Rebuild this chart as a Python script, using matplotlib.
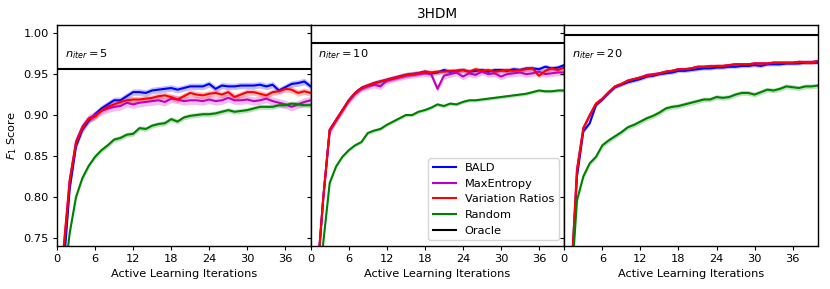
import numpy as np
import matplotlib
matplotlib.use("Agg")
import matplotlib.pyplot as plt

# active learning iterations 1..40
iters = np.arange(1, 41)
methods = ["BALD", "MaxEntropy", "Variation Ratios", "Random"]
colors = {"BALD": "blue", "MaxEntropy": "m", "Variation Ratios": "red", "Random": "green"}
n_iters = [5, 10, 20]
oracle = [0.956, 0.988, 0.998]

# n_iter = 5
bald_5 = [0.71, 0.81, 0.862, 0.882, 0.893, 0.901, 0.908, 0.913, 0.918, 0.918,
          0.923, 0.928, 0.928, 0.927, 0.930, 0.931, 0.932, 0.933, 0.931, 0.933,
          0.935, 0.935, 0.935, 0.938, 0.932, 0.936, 0.935, 0.935, 0.936, 0.936,
          0.936, 0.937, 0.935, 0.937, 0.930, 0.934, 0.938, 0.939, 0.941, 0.935]
maxent_5 = [0.73, 0.82, 0.868, 0.886, 0.896, 0.900, 0.905, 0.908, 0.910, 0.911,
            0.915, 0.913, 0.915, 0.916, 0.917, 0.918, 0.916, 0.920, 0.919, 0.917,
            0.918, 0.918, 0.917, 0.919, 0.917, 0.918, 0.921, 0.918, 0.918, 0.919,
            0.917, 0.918, 0.920, 0.917, 0.915, 0.913, 0.910, 0.913, 0.916, 0.918]
varrat_5 = [0.735, 0.82, 0.866, 0.884, 0.895, 0.898, 0.906, 0.910, 0.913, 0.916,
            0.918, 0.919, 0.919, 0.920, 0.921, 0.923, 0.924, 0.922, 0.919, 0.923,
            0.927, 0.925, 0.924, 0.926, 0.927, 0.925, 0.928, 0.922, 0.925, 0.928,
            0.928, 0.926, 0.924, 0.928, 0.929, 0.932, 0.931, 0.927, 0.929, 0.927]
random_5 = [0.69, 0.756, 0.800, 0.823, 0.838, 0.849, 0.857, 0.863, 0.870, 0.872,
            0.876, 0.877, 0.884, 0.883, 0.887, 0.889, 0.890, 0.895, 0.892, 0.897,
            0.899, 0.900, 0.901, 0.901, 0.902, 0.904, 0.906, 0.904, 0.905, 0.906,
            0.908, 0.910, 0.910, 0.910, 0.912, 0.912, 0.914, 0.913, 0.912, 0.912]

# n_iter = 10
bald_10 = [0.70, 0.80, 0.882, 0.894, 0.906, 0.918, 0.927, 0.933, 0.936, 0.939,
           0.941, 0.943, 0.945, 0.947, 0.949, 0.950, 0.951, 0.953, 0.951, 0.952,
           0.955, 0.953, 0.954, 0.955, 0.953, 0.954, 0.955, 0.953, 0.955, 0.955,
           0.954, 0.956, 0.955, 0.957, 0.957, 0.956, 0.959, 0.957, 0.958, 0.961]
maxent_10 = [0.70, 0.80, 0.880, 0.893, 0.905, 0.917, 0.926, 0.932, 0.935, 0.937,
             0.935, 0.942, 0.944, 0.946, 0.948, 0.949, 0.950, 0.951, 0.950, 0.932,
             0.948, 0.950, 0.952, 0.947, 0.951, 0.949, 0.953, 0.950, 0.951, 0.947,
             0.950, 0.951, 0.952, 0.950, 0.951, 0.953, 0.950, 0.951, 0.952, 0.952]
varrat_10 = [0.70, 0.80, 0.882, 0.894, 0.906, 0.918, 0.927, 0.933, 0.936, 0.939,
             0.941, 0.943, 0.945, 0.947, 0.949, 0.950, 0.951, 0.953, 0.952, 0.953,
             0.953, 0.954, 0.954, 0.955, 0.953, 0.956, 0.954, 0.955, 0.953, 0.954,
             0.955, 0.954, 0.955, 0.956, 0.957, 0.948, 0.954, 0.957, 0.955, 0.958]
random_10 = [0.66, 0.745, 0.817, 0.837, 0.849, 0.857, 0.863, 0.867, 0.878, 0.881,
             0.883, 0.888, 0.892, 0.896, 0.900, 0.900, 0.904, 0.906, 0.909, 0.913,
             0.911, 0.914, 0.913, 0.916, 0.918, 0.918, 0.919, 0.920, 0.921, 0.922,
             0.923, 0.924, 0.925, 0.926, 0.928, 0.930, 0.929, 0.929, 0.930, 0.930]

# n_iter = 20
bald_20 = [0.68, 0.825, 0.880, 0.890, 0.912, 0.919, 0.927, 0.934, 0.937, 0.940,
           0.942, 0.944, 0.947, 0.948, 0.950, 0.951, 0.952, 0.954, 0.954, 0.955,
           0.956, 0.957, 0.957, 0.958, 0.958, 0.959, 0.959, 0.960, 0.960, 0.961,
           0.960, 0.962, 0.962, 0.962, 0.963, 0.963, 0.963, 0.964, 0.964, 0.964]
maxent_20 = [0.69, 0.833, 0.884, 0.899, 0.914, 0.920, 0.928, 0.935, 0.938, 0.942,
             0.944, 0.946, 0.949, 0.950, 0.951, 0.953, 0.954, 0.956, 0.956, 0.957,
             0.959, 0.959, 0.960, 0.960, 0.960, 0.961, 0.962, 0.962, 0.962, 0.963,
             0.963, 0.963, 0.964, 0.964, 0.964, 0.964, 0.965, 0.965, 0.965, 0.966]
varrat_20 = [0.69, 0.833, 0.884, 0.900, 0.914, 0.920, 0.928, 0.935, 0.938, 0.942,
             0.944, 0.946, 0.948, 0.949, 0.951, 0.953, 0.954, 0.956, 0.956, 0.957,
             0.959, 0.959, 0.959, 0.960, 0.960, 0.961, 0.962, 0.962, 0.962, 0.963,
             0.963, 0.963, 0.964, 0.964, 0.964, 0.964, 0.965, 0.964, 0.964, 0.966]
random_20 = [0.68, 0.796, 0.825, 0.841, 0.849, 0.863, 0.869, 0.874, 0.879, 0.885,
             0.888, 0.892, 0.896, 0.899, 0.903, 0.908, 0.910, 0.911, 0.913, 0.915,
             0.917, 0.919, 0.919, 0.922, 0.921, 0.922, 0.925, 0.927, 0.927, 0.925,
             0.928, 0.931, 0.930, 0.932, 0.935, 0.934, 0.933, 0.935, 0.935, 0.936]

scores = [
    {"BALD": bald_5, "MaxEntropy": maxent_5, "Variation Ratios": varrat_5, "Random": random_5},
    {"BALD": bald_10, "MaxEntropy": maxent_10, "Variation Ratios": varrat_10, "Random": random_10},
    {"BALD": bald_20, "MaxEntropy": maxent_20, "Variation Ratios": varrat_20, "Random": random_20},
]
# approximate std of the runs (shaded band half-width)
spread = [
    {"BALD": 0.004, "MaxEntropy": 0.005, "Variation Ratios": 0.004, "Random": 0.003},
    {"BALD": 0.003, "MaxEntropy": 0.004, "Variation Ratios": 0.003, "Random": 0.002},
    {"BALD": 0.002, "MaxEntropy": 0.002, "Variation Ratios": 0.002, "Random": 0.003},
]

# the original looks like a downscaled figure, so shrink text and ticks
scale = 0.82
plt.rcParams.update({
    "font.size": 10 * scale,
    "axes.titlesize": 12 * scale,
    "xtick.major.size": 3.5 * scale,
    "ytick.major.size": 3.5 * scale,
    "xtick.major.pad": 3.5 * scale,
    "ytick.major.pad": 3.5 * scale,
    "axes.labelpad": 4 * scale,
    "axes.titlepad": 6 * scale,
    "axes.linewidth": 1.0,
})

fig, axes = plt.subplots(1, 3, figsize=(8.3, 2.89), dpi=100, sharey=True)
fig.subplots_adjust(left=0.0687, right=0.9855, top=0.9135, bottom=0.1488, wspace=0)

for i, ax in enumerate(axes):
    for m in methods:
        y = np.array(scores[i][m])
        s = spread[i][m]
        ax.plot(iters, y, color=colors[m], lw=1.5, label=m)
        ax.fill_between(iters, y - s, y + s, color=colors[m], alpha=0.25, lw=0)
    ax.axhline(oracle[i], color="black", lw=1.5, label="Oracle")
    ax.set_xlim(0, 40)
    ax.set_ylim(0.74, 1.01)
    ax.set_xticks([0, 6, 12, 18, 24, 30, 36])
    ax.set_xlabel("Active Learning Iterations")
    ax.text(0.03, 0.87, "$n_{iter} = %d$" % n_iters[i], transform=ax.transAxes,
            ha="left", va="center")

axes[0].set_yticks([0.75, 0.80, 0.85, 0.90, 0.95, 1.00])
axes[0].set_ylabel("$F_1$ Score")
axes[1].set_title("3HDM")
axes[1].legend(loc="lower right")

fig.savefig("out.png")
